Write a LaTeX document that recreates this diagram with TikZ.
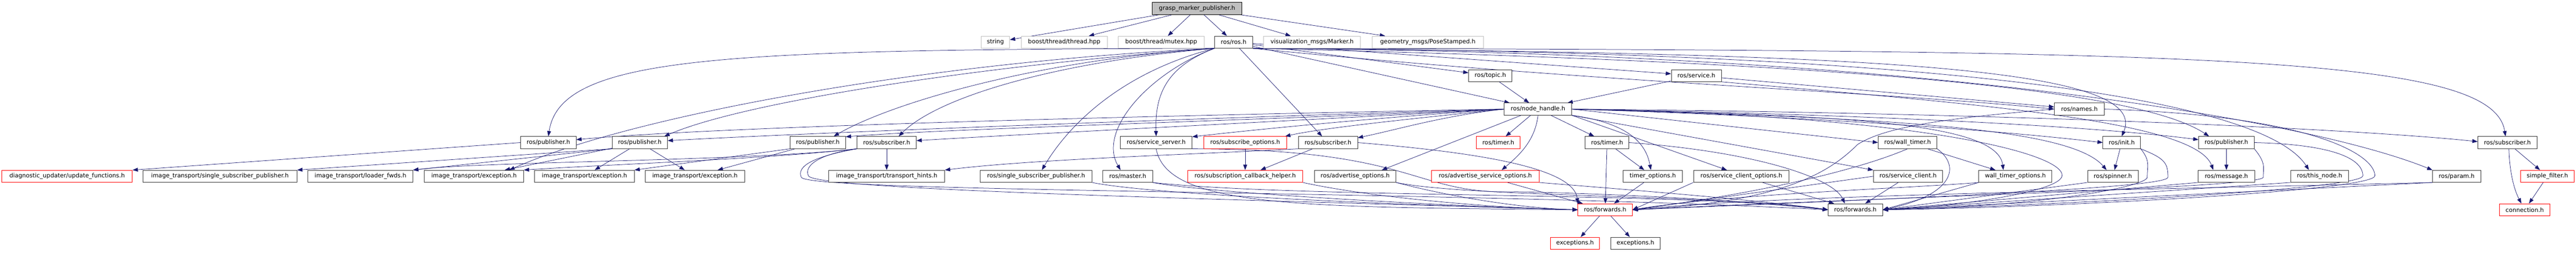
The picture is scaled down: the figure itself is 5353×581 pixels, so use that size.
\documentclass[tikz,border=0pt]{standalone}
\usepackage{fontspec}
\setmainfont{DejaVu Sans}
\usetikzlibrary{arrows.meta}
\definecolor{edgec}{HTML}{191970}
\definecolor{lgray}{HTML}{BFBFBF}
\definecolor{nodeb}{HTML}{333333}
\pgfdeclarelayer{bg}
\pgfsetlayers{bg,main}
\tikzset{
  box/.style={draw=nodeb, fill=white, line width=0.9pt, minimum height=25pt, inner sep=0pt,
    font=\fontsize{12.3pt}{14pt}\selectfont, anchor=center},
  redbox/.style={box, draw=red},
  graybox/.style={box, draw=lgray},
  rootbox/.style={box, fill=lgray, draw=black},
  e/.style={draw=edgec, line width=0.8pt, -{Triangle[length=11pt,width=8pt]}},
}
\newcommand{\nd}[6]{\node[#1, minimum width={#4pt-#3pt}] (#2) at ({(#3+#4)/2},#5) {#6};}
\begin{document}
\begin{tikzpicture}[x=1pt,y=-1pt]
\useasboundingbox (0,0) rectangle (5353,581);
% row 0
\nd{rootbox}{gmp}{2394}{2581}{17.5}{grasp\_marker\_publisher.h}
% row 1
\nd{graybox}{str}{2039}{2098}{87.5}{string}
\nd{graybox}{bthr}{2122}{2301}{87.5}{boost/thread/thread.hpp}
\nd{graybox}{bmut}{2324}{2502}{87.5}{boost/thread/mutex.hpp}
\nd{box}{ros}{2524}{2603}{87.5}{ros/ros.h}
\nd{graybox}{vis}{2626}{2827}{87.5}{visualization\_msgs/Marker.h}
\nd{graybox}{geo}{2851}{3083}{87.5}{geometry\_msgs/PoseStamped.h}
% row 2
\nd{box}{topic}{3052}{3142}{157}{ros/topic.h}
\nd{box}{service}{3473}{3577}{157}{ros/service.h}
% row 3
\nd{box}{nh}{3126}{3266}{226.5}{ros/node\_handle.h}
\nd{box}{names}{4269}{4373}{226.5}{ros/names.h}
% row 4
\nd{box}{pub1}{1082}{1197}{296}{ros/publisher.h}
\nd{box}{pub2}{1272}{1387}{296}{ros/publisher.h}
\nd{box}{pub3}{1642}{1757}{296}{ros/publisher.h}
\nd{box}{sub1}{1781}{1904}{296}{ros/subscriber.h}
\nd{box}{ssrv}{2328}{2477}{296}{ros/service\_server.h}
\nd{redbox}{subopt}{2501}{2674}{296}{ros/subscribe\_options.h}
\nd{box}{sub2}{2698}{2821}{296}{ros/subscriber.h}
\nd{redbox}{timerR}{3068}{3159}{296}{ros/timer.h}
\nd{box}{timer}{3294}{3385}{296}{ros/timer.h}
\nd{box}{wtimer}{3903}{4025}{296}{ros/wall\_timer.h}
\nd{box}{init}{4370}{4448}{296}{ros/init.h}
\nd{box}{pub4}{4569}{4684}{296}{ros/publisher.h}
\nd{box}{sub3}{5149}{5272}{296}{ros/subscriber.h}
% row 5
\nd{redbox}{diag}{4}{275}{366}{diagnostic\_updater/update\_functions.h}
\nd{box}{itssp}{297}{617}{366}{image\_transport/single\_subscriber\_publisher.h}
\nd{box}{itlf}{640}{858}{366}{image\_transport/loader\_fwds.h}
\nd{box}{itex1}{882}{1088}{366}{image\_transport/exception.h}
\nd{box}{itex2}{1111}{1318}{366}{image\_transport/exception.h}
\nd{box}{itex3}{1341}{1547}{366}{image\_transport/exception.h}
\nd{box}{itth}{1722}{1963}{366}{image\_transport/transport\_hints.h}
\nd{box}{rssp}{2037}{2269}{366}{ros/single\_subscriber\_publisher.h}
\nd{box}{master}{2292}{2395}{366}{ros/master.h}
\nd{redbox}{scbh}{2468}{2707}{366}{ros/subscription\_callback\_helper.h}
\nd{box}{advopt}{2731}{2901}{366}{ros/advertise\_options.h}
\nd{redbox}{advsrv}{2975}{3198}{366}{ros/advertise\_service\_options.h}
\nd{box}{timopt}{3373}{3496}{366}{timer\_options.h}
\nd{box}{scopt}{3519}{3718}{366}{ros/service\_client\_options.h}
\nd{box}{sclient}{3893}{4037}{366}{ros/service\_client.h}
\nd{box}{wtopt}{4112}{4264}{366}{wall\_timer\_options.h}
\nd{box}{spinner}{4338}{4443}{366}{ros/spinner.h}
\nd{box}{message}{4568}{4685}{366}{ros/message.h}
\nd{box}{thisnode}{4760}{4880}{366}{ros/this\_node.h}
\nd{box}{param}{5055}{5155}{366}{ros/param.h}
\nd{redbox}{sfilter}{5238}{5349}{366}{simple\_filter.h}
% row 6
\nd{redbox}{fwdR}{3279}{3392}{435.5}{ros/forwards.h}
\nd{box}{fwd}{3799}{3912}{435.5}{ros/forwards.h}
\nd{redbox}{conn}{5194}{5299}{435.5}{connection.h}
% row 7
\nd{redbox}{excR}{3222}{3324}{505}{exceptions.h}
\nd{box}{exc}{3347}{3450}{505}{exceptions.h}

\begin{pgfonlayer}{bg}
% root
\draw[e] (gmp) -- (str);
\draw[e] (gmp) -- (bthr);
\draw[e] (gmp) -- (bmut);
\draw[e] (gmp) -- (ros);
\draw[e] (gmp) -- (vis);
\draw[e] (gmp) -- (geo);
% ros.h to the left
\draw[e] (ros.south west) .. controls (1500,103) and (1165,115) .. (pub1.north);
\draw[e] (ros.south west) .. controls (1900,130) and (1300,245) .. ([xshift=-30pt]itex1.north east);
\draw[e] (ros.south west) .. controls (2050,135) and (1550,210) .. ([xshift=-7pt]pub2.north east);
\draw[e] (ros.south west) .. controls (2150,125) and (1850,215) .. ([xshift=-25pt]pub3.north east);
\draw[e] (ros.south west) .. controls (2200,128) and (1950,200) .. ([xshift=25pt]sub1.north);
\draw[e] (ros.south west) .. controls (2330,150) and (2220,260) .. ([xshift=12pt]rssp.north);
\draw[e] (ros.south west) .. controls (2390,150) and (2280,270) .. ([xshift=-15pt]master.north);
\draw[e] (ros.south west) .. controls (2420,140) and (2400,200) .. (ssrv.north);
\draw[e] (ros) -- (sub2);
% ros.h to the right
\draw[e] (ros) -- (topic);
\draw[e] (ros) -- (nh);
\draw[e] (ros) -- (service);
\draw[e] (ros.south east) .. controls (3300,170) and (3900,190) .. (names.west);
\draw[e] (ros.south east) .. controls (3900,110) and (4470,140) .. (init.north);
\draw[e] (ros.south east) .. controls (3900,130) and (4450,190) .. ([xshift=-36pt]pub4.north);
\draw[e] (ros.south east) .. controls (4000,105) and (4700,200) .. ([xshift=-22pt]thisnode.north);
\draw[e] (ros.south east) .. controls (4000,108) and (4800,250) .. (param.north west);
\draw[e] (ros.south east) .. controls (4600,104) and (5180,115) .. ([xshift=-4pt]sub3.north);
% topic / service
\draw[e] (topic) -- (nh);
\draw[e] (service) -- (nh);
\draw[e] (service) -- (names);
\draw[e] (service.south east) .. controls (4100,215) and (4560,250) .. ([xshift=-27pt]message.north);
% node_handle to the left
\draw[e] (nh.west) .. controls (2400,240) and (1500,262) .. ([yshift=6pt]pub1.east);
\draw[e] (nh.west) .. controls (2500,245) and (1700,275) .. ([yshift=4pt]pub2.east);
\draw[e] (nh.west) .. controls (2600,250) and (1950,268) .. ([yshift=12pt]pub3.east);
\draw[e] (nh.west) .. controls (2700,250) and (2100,280) .. ([yshift=4pt]sub1.east);
\draw[e] (nh.west) .. controls (2850,245) and (2600,270) .. ([yshift=12pt]ssrv.east);
\draw[e] (nh.west) .. controls (2950,245) and (2750,265) .. ([xshift=-4pt]subopt.north east);
\draw[e] (nh.west) .. controls (3000,240) and (2900,270) .. ([yshift=10pt]sub2.east);
% node_handle downwards
\draw[e] (nh) -- (timerR);
\draw[e] (nh) -- (timer);
\draw[e] ([xshift=-35pt]nh.south) -- ([xshift=-30pt]advopt.north east);
\draw[e] (nh.south) .. controls (3190,290) and (3160,320) .. ([xshift=34pt]advsrv.north);
\draw[e] (nh.south east) .. controls (3380,255) and (3420,295) .. ([xshift=-4pt]timopt.north);
\draw[e] (nh.south east) -- ([xshift=-30pt]scopt.north);
\draw[e] (nh.south east) -- (sclient.north west);
\draw[e] (nh.east) -- (wtimer.west);
\draw[e] (nh.east) .. controls (3800,240) and (4150,250) .. ([xshift=-25pt]wtopt.north);
\draw[e] (nh.east) .. controls (3900,245) and (4300,262) .. ([xshift=-13pt]spinner.north);
\draw[e] (nh.east) .. controls (3700,240) and (4100,265) .. (init.west);
\draw[e] (nh.east) .. controls (3900,238) and (4350,262) .. ([yshift=6pt]pub4.west);
\draw[e] (nh.east) .. controls (4200,235) and (4900,268) .. ([yshift=2pt]sub3.west);
\draw[e] (nh.east) .. controls (4000,240) and (4290,320) .. (4285,365) .. controls (4280,400) and (4050,430) .. (fwd.east);
% image_transport side
\draw[e] (pub1.west) -- (diag.north east);
\draw[e] (pub2.south west) -- (itssp.north east);
\draw[e] (pub2.south west) -- (itlf.north east);
\draw[e] (pub2) -- (itex1);
\draw[e] (pub2) -- (itex2);
\draw[e] (pub2) -- (itex3);
\draw[e] (pub3) -- (itex3);
\draw[e] (pub3.south west) -- (itex2.north east);
\draw[e] (sub1) -- (itth);
\draw[e] (sub1.south west) .. controls (1600,330) and (1250,342) .. (itex1.north east);
\draw[e] (sub1.south west) .. controls (1550,335) and (1000,335) .. (itlf.north east);
\draw[e] (sub2.south west) .. controls (2500,320) and (2150,330) .. (itth.north east);
% towards the forwards headers
\draw[e] (sub1.south west) .. controls (1700,320) and (1670,345) .. (1680,365) .. controls (1690,395) and (2600,415) .. (fwdR.west);
\draw[e] (sub1.south west) .. controls (1690,325) and (1655,345) .. (1665,368) .. controls (1680,400) and (3000,395) .. (fwd.west);
\draw[e] (rssp.south east) .. controls (2400,405) and (2900,425) .. (fwdR.west);
\draw[e] (master.south east) .. controls (2500,400) and (3000,428) .. (fwdR.west);
\draw[e] (master.south east) .. controls (2700,412) and (3500,398) .. (fwd.west);
\draw[e] (ssrv.south) .. controls (2425,430) and (2700,430) .. (fwdR.west);
\draw[e] (ssrv.south east) .. controls (2950,310) and (2935,405) .. (3150,398) .. controls (3450,405) and (3650,420) .. (fwd.west);
\draw[e] (subopt) -- (scbh);
\draw[e] (sub2) -- (scbh);
\draw[e] (scbh.south east) .. controls (2850,410) and (3100,432) .. (fwdR.west);
\draw[e] (sub2.east) .. controls (3050,315) and (3270,345) .. (fwdR.north west);
\draw[e] (advopt.south east) .. controls (3000,405) and (3150,432) .. (fwdR.west);
\draw[e] (advopt.south east) .. controls (3050,410) and (3600,405) .. (fwd.west);
\draw[e] (advsrv) -- (fwdR);
\draw[e] (advsrv.south east) .. controls (3400,395) and (3650,415) .. (fwd.west);
\draw[e] (timer) -- (fwdR);
\draw[e] (timer) -- (timopt);
\draw[e] (timer.east) .. controls (3650,315) and (3810,370) .. ([xshift=-22pt]fwd.north);
\draw[e] (timopt) -- (fwdR);
\draw[e] (scopt.south west) -- (fwdR.east);
\draw[e] (scopt) -- (fwd);
\draw[e] (sclient.west) -- (fwdR.east);
\draw[e] (sclient) -- (fwd);
\draw[e] (wtimer) -- (wtopt);
\draw[e] (wtimer.south) .. controls (3880,345) and (3700,395) .. (fwdR.east);
\draw[e] (wtimer.south east) .. controls (4075,345) and (4060,405) .. (fwd.east);
\draw[e] (wtopt.south west) .. controls (3950,392) and (3600,402) .. (fwdR.east);
\draw[e] (wtopt.south west) -- (fwd.east);
\draw[e] (names.west) .. controls (4050,245) and (3920,262) .. (3860,300) .. controls (3800,360) and (3700,420) .. (fwdR.east);
\draw[e] (names.east) .. controls (4800,240) and (4935,320) .. (4935,365) .. controls (4935,395) and (4300,430) .. (fwd.east);
\draw[e] (init) -- (spinner);
\draw[e] (init.south east) .. controls +(20,25) and +(0,-25) .. (4462,368) .. controls +(0,18) and +(350,-8) .. (fwd.east);
\draw[e] (init.south east) .. controls +(50,20) and +(0,-30) .. (4505,368) .. controls +(0,22) and +(600,-25) .. (fwdR.east);
\draw[e] (spinner.south west) -- (fwd.east);
\draw[e] (pub4) -- (message);
\draw[e] (pub4.south east) .. controls +(25,30) and +(0,-20) .. (4703,368) .. controls +(0,22) and +(500,-25) .. (fwdR.east);
\draw[e] (pub4.east) .. controls (4850,300) and (4910,330) .. (4910,365) .. controls (4910,392) and (4300,425) .. (fwd.east);
\draw[e] (message.south west) -- (fwd.east);
\draw[e] (thisnode.south west) -- (fwd.east);
\draw[e] (param.south west) -- (fwd.east);
\draw[e] (param.south west) .. controls (4400,395) and (3700,405) .. (fwdR.east);
% subscriber (right)
\draw[e] (sub3) -- (sfilter);
\draw[e] ([xshift=3pt]sub3.south) .. controls (5215,360) and (5225,395) .. ([xshift=-7pt]conn.north);
\draw[e] (sfilter) -- (conn);
% forwards
\draw[e] (fwdR) -- (excR);
\draw[e] (fwdR) -- (exc);
\end{pgfonlayer}
\end{tikzpicture}
\end{document}
